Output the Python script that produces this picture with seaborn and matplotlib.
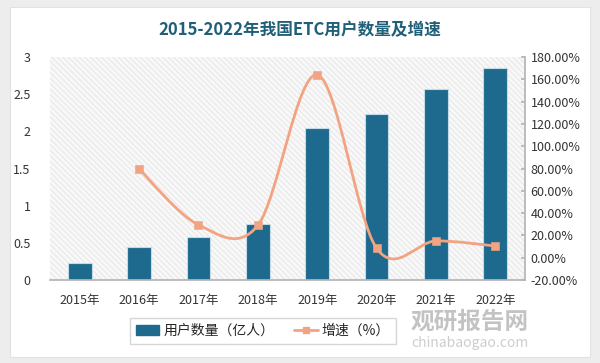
"""
2015-2022年我国ETC用户数量及增速 (bar + smoothed growth line).
"""

import matplotlib.pyplot as plt
import numpy as np
import seaborn as sns
from matplotlib.lines import Line2D
from matplotlib.patches import Patch, Rectangle
from matplotlib.path import Path
from matplotlib.patches import PathPatch
from matplotlib.ticker import FuncFormatter, MultipleLocator

YEARS = ["2015年", "2016年", "2017年", "2018年", "2019年", "2020年", "2021年", "2022年"]
USERS = [0.23, 0.44, 0.58, 0.75, 2.05, 2.23, 2.57, 2.85]  # 亿人
GROWTH_YEARS = ["2016年", "2017年", "2018年", "2019年", "2020年", "2021年", "2022年"]
GROWTH = [79.5, 29.5, 29.0, 164.0, 8.5, 15.0, 10.5]  # %

BAR_COLOR = "#1d6a8e"
LINE_COLOR = "#f2a482"
TITLE_COLOR = "#1f5f78"
FONT = ["Noto Sans CJK SC", "DejaVu Sans"]


def smooth_path(xs, ys) -> Path:
    """Catmull-Rom style bezier through the points (like Excel's smoothed line)."""
    pts = np.column_stack([xs, ys]).astype(float)
    verts = [pts[0]]
    codes = [Path.MOVETO]
    n = len(pts)
    for i in range(n - 1):
        p0 = pts[max(i - 1, 0)]
        p1 = pts[i]
        p2 = pts[i + 1]
        p3 = pts[min(i + 2, n - 1)]
        c1 = p1 + (p2 - p0) / 6.0
        c2 = p2 - (p3 - p1) / 6.0
        verts += [c1, c2, p2]
        codes += [Path.CURVE4] * 3
    return Path(verts, codes)


def main() -> None:
    sns.set_theme(style="white")
    plt.rcParams["font.family"] = FONT
    plt.rcParams["hatch.linewidth"] = 0.5
    plt.rcParams["hatch.color"] = "#e0e0e0"

    fig = plt.figure(figsize=(6.0, 3.63), dpi=100, facecolor="#ededed")
    # white card
    fig.patches.append(
        Rectangle((10 / 600, 6 / 363), 580 / 600, 350 / 363, transform=fig.transFigure,
                  facecolor="white", edgecolor="#e2e2e2", linewidth=0.8, zorder=-5)
    )

    ax = fig.add_axes([50 / 600, 1 - 280 / 363, 475 / 600, 223 / 363])
    ax.set_facecolor("none")
    ax.add_patch(
        Rectangle((0, 0), 1, 1, transform=ax.transAxes, facecolor="#f8f8f8",
                  edgecolor="#e0e0e0", hatch="\\\\\\\\\\\\", linewidth=0, zorder=0)
    )

    sns.barplot(x=YEARS, y=USERS, color=BAR_COLOR, width=0.4, saturation=1,
                edgecolor="#c4dbe7", linewidth=0.8, ax=ax, zorder=2)
    ax.set_ylim(0, 3)
    ax.set_xlim(-0.5, len(YEARS) - 0.5)
    ax.yaxis.set_major_locator(MultipleLocator(0.5))
    ax.yaxis.set_major_formatter(FuncFormatter(lambda v, _: f"{v:g}"))
    for side in ["left", "top", "right"]:
        ax.spines[side].set_visible(False)
    ax.spines["bottom"].set_color("#b5b5b5")
    ax.tick_params(axis="y", length=0, labelsize=9, colors="#333333", pad=14)
    ax.tick_params(axis="x", length=0, labelsize=9, colors="#333333", pad=10)
    ax.set_xlabel("")
    ax.set_ylabel("")

    ax2 = ax.twinx()
    ax2.set_ylim(-20, 180)
    ax2.yaxis.set_major_locator(MultipleLocator(20))
    ax2.yaxis.set_major_formatter(FuncFormatter(lambda v, _: f"{v:.2f}%"))
    for side in ["left", "top", "bottom"]:
        ax2.spines[side].set_visible(False)
    ax2.spines["right"].set_color("#b5b5b5")
    ax2.tick_params(axis="y", direction="in", length=3, color="#b5b5b5",
                    labelsize=9, colors="#333333", pad=4)

    gx = [YEARS.index(y) for y in GROWTH_YEARS]
    ax2.add_patch(PathPatch(smooth_path(gx, GROWTH), facecolor="none",
                            edgecolor=LINE_COLOR, linewidth=2, zorder=3))
    sns.scatterplot(x=gx, y=GROWTH, marker="s", s=28, color=LINE_COLOR,
                    edgecolor=LINE_COLOR, ax=ax2, zorder=4)
    ax2.set_xlim(-0.5, len(YEARS) - 0.5)

    fig.text(0.5, 1 - 30 / 363, "2015-2022年我国ETC用户数量及增速", ha="center",
             va="center", fontsize=12, fontweight="bold", color=TITLE_COLOR)

    handles = [
        Patch(facecolor=BAR_COLOR, edgecolor=BAR_COLOR),
        Line2D([0], [0], color=LINE_COLOR, linewidth=2, marker="s", markersize=5),
    ]
    fig.legend(handles, ["用户数量（亿人）", "增速（%）"], loc="center",
               bbox_to_anchor=(263 / 600, 1 - 331 / 363), ncol=2, frameon=True,
               edgecolor="#cccccc", fancybox=False, fontsize=10, handlelength=1.7,
               handletextpad=0.3, columnspacing=1.4, borderpad=0.45)

    # watermark
    fig.text(470 / 600, 1 - 322 / 363, "观研报告网", ha="center", va="center",
             fontsize=17, fontweight="bold", color="#bdbdbd", alpha=0.9)
    fig.text(470 / 600, 1 - 343 / 363, "chinabaogao.com", ha="center", va="center",
             fontsize=10, color="#c8c8c8", alpha=0.9)

    fig.savefig("out.png", dpi=100, facecolor=fig.get_facecolor())
    plt.close(fig)


if __name__ == "__main__":
    main()
